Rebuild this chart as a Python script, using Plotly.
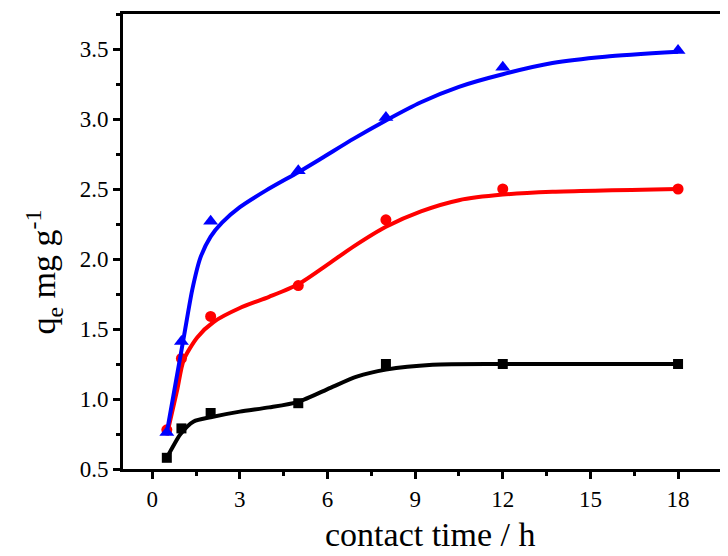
import plotly.graph_objects as go

# measured points
time_h = [0.5, 1, 2, 5, 8, 12, 18]
qe_black = [0.58, 0.79, 0.90, 0.97, 1.25, 1.25, 1.25]
qe_red = [0.78, 1.29, 1.59, 1.81, 2.28, 2.50, 2.50]
qe_blue = [0.76, 1.41, 2.27, 2.63, 3.01, 3.37, 3.49]

# fitted curves
fit_x_black = [0.5, 0.63, 0.97, 1.42, 2.0, 3.0, 4.0, 5.0, 6.1, 7.0, 8.0, 9.6, 12, 18]
fit_black = [0.58, 0.63, 0.75, 0.84, 0.87, 0.91, 0.94, 0.98, 1.08, 1.16, 1.21, 1.245, 1.25, 1.25]
fit_x_red = [0.5, 0.85, 1.08, 1.54, 2.1, 3.0, 4.0, 5.0, 6.0, 6.9, 8.0, 9.2, 10.5, 12, 13.7, 18]
fit_red = [0.74, 1.06, 1.28, 1.44, 1.55, 1.65, 1.73, 1.82, 1.96, 2.09, 2.23, 2.34, 2.42, 2.46, 2.48, 2.50]
fit_x_blue = [0.5, 1.08, 1.37, 1.65, 2.0, 2.39, 3.0, 3.9, 5.0, 5.8, 6.9, 8.0, 9.2, 10.5, 12, 13.7, 15.5, 18]
fit_blue = [0.76, 1.44, 1.78, 2.01, 2.16, 2.26, 2.37, 2.49, 2.62, 2.72, 2.86, 2.99, 3.12, 3.23, 3.32, 3.40, 3.445, 3.48]

x_ticks = [0, 3, 6, 9, 12, 15, 18]
y_ticks = [0.5, 1.0, 1.5, 2.0, 2.5, 3.0, 3.5]

FONT = "Liberation Serif, Times New Roman, serif"

fig = go.Figure()
series = [
    (fit_x_black, fit_black, qe_black, "black", "square", 10),
    (fit_x_red, fit_red, qe_red, "#ff0000", "circle", 11),
    (fit_x_blue, fit_blue, qe_blue, "#0000ff", "triangle-up", 13),
]
for fx, fy, qy, col, sym, sz in series:
    fig.add_trace(go.Scatter(x=fx, y=fy, mode="lines", line=dict(color=col, width=4, shape="spline", smoothing=0.7),
                             showlegend=False, hoverinfo="skip"))
    fig.add_trace(go.Scatter(x=time_h, y=qy, mode="markers", marker=dict(color=col, symbol=sym, size=sz),
                             showlegend=False))

fig.update_layout(
    width=720, height=548,
    margin=dict(l=115, r=0, t=6, b=87),
    plot_bgcolor="white", paper_bgcolor="white",
    font=dict(family=FONT, size=23, color="black"),
    xaxis=dict(range=[-1, 19.71], tickvals=x_ticks, ticktext=[str(v) for v in x_ticks],
               ticks="outside", ticklen=7, tickwidth=3, tickcolor="black",
               minor=dict(dtick=1.5, tick0=0, ticks="outside", ticklen=4, tickwidth=3, tickcolor="black"),
               showline=True, linewidth=3, linecolor="black", mirror=True,
               showgrid=False, zeroline=False, tickfont=dict(size=23, family=FONT)),
    yaxis=dict(range=[0.5, 3.75], tickvals=y_ticks, ticktext=["%.1f" % v for v in y_ticks],
               ticks="outside", ticklen=7, tickwidth=3, tickcolor="black",
               minor=dict(dtick=0.25, tick0=0.5, ticks="outside", ticklen=4, tickwidth=3, tickcolor="black"),
               showline=True, linewidth=3, linecolor="black",
               showgrid=False, zeroline=False, tickfont=dict(size=23, family=FONT)),
    annotations=[
        dict(text="contact time / h", xref="paper", yref="paper", x=0.5077, y=-0.098,
             xanchor="center", yanchor="top", showarrow=False, font=dict(size=34, family=FONT)),
        dict(text="q<sub>e</sub> mg g<sup>-1</sup>", xref="paper", yref="paper", x=-0.1317, y=0.4326,
             xanchor="center", yanchor="middle", textangle=-90, showarrow=False,
             font=dict(size=34, family=FONT)),
    ],
)

fig.write_html("out.html")
